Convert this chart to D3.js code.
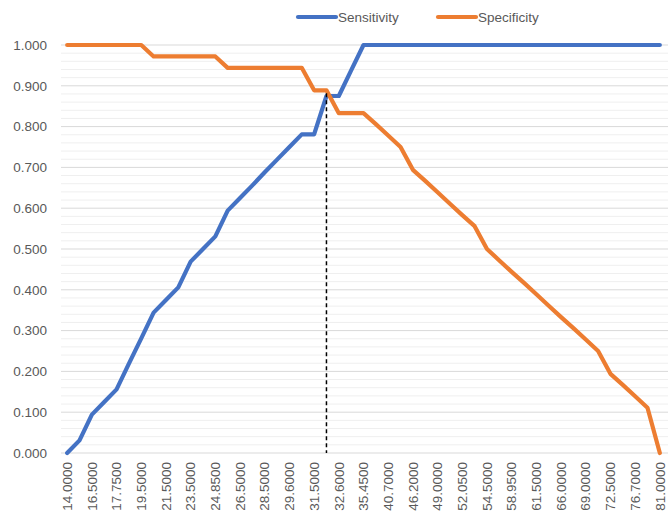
<!DOCTYPE html>
<html>
<head>
<meta charset="UTF-8">
<title>Sensitivity / Specificity</title>
<script src="https://d3js.org/d3.v7.min.js"></script>
<style>
  body { margin: 0; background: #fff; }
  svg { display: block; font-family: "Liberation Sans", Arial, sans-serif; }
  .tick-label { fill: #595959; font-size: 13.5px; }
  .legend-label { fill: #595959; font-size: 13.5px; }
</style>
</head>
<body>
<div id="chart"></div>
<script>
// cut-off values (only every other one is labelled on the axis)
const cutoffs = [
  "14.0000", "15.2500", "16.5000", "17.0000", "17.7500", "18.7500", "19.5000", "20.5000",
  "21.5000", "22.5000", "23.5000", "24.2500", "24.8500", "25.5000", "26.5000", "27.5000",
  "28.5000", "29.0000", "29.6000", "30.5000", "31.5000", "32.0000", "32.6000", "33.9000",
  "35.4500", "38.0000", "40.7000", "43.5000", "46.2000", "47.5000", "49.0000", "50.5000",
  "52.0500", "53.2500", "54.5000", "56.5000", "58.9500", "60.2500", "61.5000", "63.5000",
  "66.0000", "67.5000", "69.0000", "70.7500", "72.5000", "74.5000", "76.7000", "78.8500",
  "81.0000"
];

const sensitivity = [
  0.000, 0.031, 0.094, 0.125, 0.156, 0.219, 0.281, 0.344,
  0.375, 0.406, 0.469, 0.500, 0.531, 0.594, 0.625, 0.656,
  0.688, 0.719, 0.750, 0.781, 0.781, 0.875, 0.875, 0.938,
  1.000, 1.000, 1.000, 1.000, 1.000, 1.000, 1.000, 1.000,
  1.000, 1.000, 1.000, 1.000, 1.000, 1.000, 1.000, 1.000,
  1.000, 1.000, 1.000, 1.000, 1.000, 1.000, 1.000, 1.000,
  1.000
];

const specificity = [
  1.000, 1.000, 1.000, 1.000, 1.000, 1.000, 1.000, 0.972,
  0.972, 0.972, 0.972, 0.972, 0.972, 0.944, 0.944, 0.944,
  0.944, 0.944, 0.944, 0.944, 0.889, 0.889, 0.833, 0.833,
  0.833, 0.806, 0.778, 0.750, 0.694, 0.667, 0.639, 0.611,
  0.583, 0.556, 0.500, 0.472, 0.444, 0.417, 0.389, 0.361,
  0.333, 0.306, 0.278, 0.250, 0.194, 0.167, 0.139, 0.111,
  0.000
];

// optimal cut-off marker
const cutIndex = 21;
const cutValue = 0.882;

const seriesNames = ["Sensitivity", "Specificity"];
const seriesColors = ["#4472C4", "#ED7D31"];

const width = 668, height = 517;
const margin = { top: 45, right: 2, bottom: 64, left: 61 };

const svg = d3.select("#chart").append("svg")
  .attr("width", width)
  .attr("height", height);

const x = d3.scalePoint()
  .domain(d3.range(cutoffs.length))
  .range([margin.left, width - margin.right])
  .padding(0.5);

const y = d3.scaleLinear()
  .domain([0, 1])
  .range([height - margin.bottom, margin.top]);

// minor + major gridlines
svg.append("g")
  .selectAll("line")
  .data(d3.range(0, 51).map(d => d / 50).filter((d, i) => i % 5 !== 0))
  .join("line")
  .attr("x1", margin.left)
  .attr("x2", width)
  .attr("y1", d => y(d))
  .attr("y2", d => y(d))
  .attr("stroke", "#efefef")
  .attr("stroke-width", 1);

const yTicks = d3.range(0, 11).map(d => d / 10);
svg.append("g")
  .selectAll("line")
  .data(yTicks)
  .join("line")
  .attr("x1", margin.left)
  .attr("x2", width)
  .attr("y1", d => y(d))
  .attr("y2", d => y(d))
  .attr("stroke", "#d9d9d9")
  .attr("stroke-width", 1);

// y labels
svg.append("g")
  .selectAll("text")
  .data(yTicks)
  .join("text")
  .attr("class", "tick-label")
  .attr("x", 47)
  .attr("y", d => y(d))
  .attr("dy", "0.35em")
  .attr("text-anchor", "end")
  .text(d => d3.format(".3f")(d));

// x labels, every other category
svg.append("g")
  .selectAll("text")
  .data(cutoffs.map((c, i) => ({ c, i })).filter(d => d.i % 2 === 0))
  .join("text")
  .attr("class", "tick-label")
  .attr("transform", d => `translate(${x(d.i)},${height - margin.bottom + 9}) rotate(-90)`)
  .attr("dy", "0.35em")
  .attr("text-anchor", "end")
  .text(d => d.c);

// lines
const line = d3.line()
  .x((d, i) => x(i))
  .y(d => y(d));

[sensitivity, specificity].forEach((s, k) => {
  svg.append("path")
    .datum(s)
    .attr("fill", "none")
    .attr("stroke", seriesColors[k])
    .attr("stroke-width", 4.2)
    .attr("stroke-linejoin", "round")
    .attr("stroke-linecap", "round")
    .attr("d", line);
});

// dashed cut-off line, on top of the series
svg.append("line")
  .attr("x1", x(cutIndex))
  .attr("x2", x(cutIndex))
  .attr("y1", y(cutValue))
  .attr("y2", y(0))
  .attr("stroke", "#000")
  .attr("stroke-width", 1.5)
  .attr("stroke-dasharray", "4,3");

// legend
const legendX = [298, 438];
seriesNames.forEach((name, k) => {
  const g = svg.append("g").attr("transform", `translate(${legendX[k]},17)`);
  g.append("line")
    .attr("x1", 0).attr("x2", 38)
    .attr("stroke", seriesColors[k])
    .attr("stroke-width", 4.2)
    .attr("stroke-linecap", "round");
  g.append("text")
    .attr("class", "legend-label")
    .attr("x", 40)
    .attr("dy", "0.35em")
    .text(name);
});
</script>
</body>
</html>
